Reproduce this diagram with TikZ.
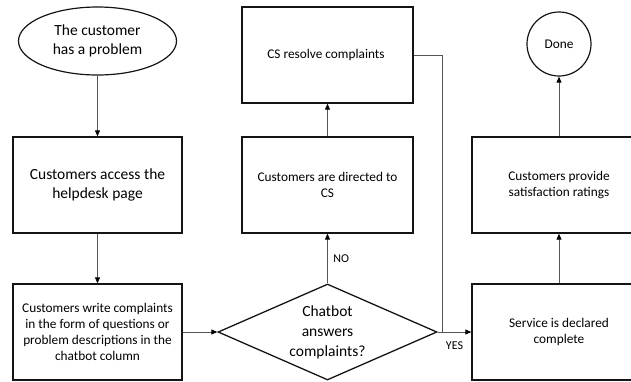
\documentclass[tikz,border=0pt]{standalone}
\usepackage{fontspec}
\setmainfont{Carlito}
\usepackage{tikz}
\usetikzlibrary{shapes.geometric, arrows.meta}
\definecolor{frame}{RGB}{20, 20, 20}
\definecolor{wire}{RGB}{85, 85, 85}

\begin{document}
\begin{tikzpicture}[x=1pt, y=-1pt,
  big/.style={font=\fontsize{15.5}{19}\selectfont},
  small/.style={font=\fontsize{13.3}{16}\selectfont},
  box/.style={draw=frame, line width=1.3pt, rectangle, align=center, inner sep=2pt, minimum height=96pt},
  flow/.style={draw=wire, line width=0.9pt, -{Triangle[length=6pt, width=5pt, color=black]}}]
  \useasboundingbox (0, 0) rectangle (631, 381);

  \node[ellipse, draw=frame, line width=1.2pt, minimum width=158pt, minimum height=68pt, align=center, big] (start) at (97.5, 41) { The customer\\has a problem };

  \node[box, big, minimum width=169pt] (access) at (97.5, 185) { Customers access the\\helpdesk page };
  \node[box, small, minimum width=169pt] (write) at (97.5, 332) { Customers write complaints\\in the form of questions or\\problem descriptions in the\\chatbot column };

  \node[diamond, draw=frame, line width=1.3pt, aspect=2.28, inner sep=0pt, minimum width=219pt, minimum height=96pt, align=center, font=\fontsize{15.5}{20}\selectfont] (chat) at (327.5, 332) { Chatbot\\answers\\complaints? };

  \node[box, small, minimum width=171pt] (directed) at (327.5, 185) { Customers are directed to\\CS };
  \node[box, small, minimum width=171pt] (resolve) at (327.5, 55) { CS resolve complaints };

  \node[box, small, minimum width=174pt] (service) at (559, 332) { Service is declared\\complete };
  \node[box, small, minimum width=174pt] (rating) at (559, 185) { Customers provide\\satisfaction ratings };
  \node[circle, draw=frame, line width=1.2pt, minimum size=64pt, inner sep=0pt, small] (done) at (559, 44) { Done };

  \coordinate (join) at (442, 332);

  \draw[flow] (start) -- (access);
  \draw[flow] (access) -- (write);
  \draw[flow] (write) -- (chat);
  \draw[flow] (chat) -- node[right=2pt, font=\fontsize{12}{14}\selectfont] { NO } (directed);
  \draw[flow] (directed) -- (resolve);
  \draw[flow] (chat.east) -- node[below=6pt, font=\fontsize{12}{14}\selectfont] { YES } (service.west);
  \draw[draw=wire, line width=0.9pt] (resolve.east) -| (join);
  \draw[flow] (service) -- (rating);
  \draw[flow] (rating) -- (done);

\end{tikzpicture}
\end{document}
